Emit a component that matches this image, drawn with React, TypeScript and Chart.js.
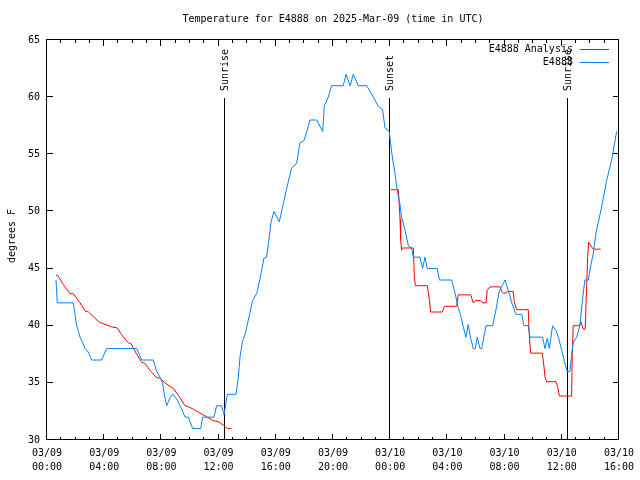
import { useEffect, useRef } from 'react';
import { Chart, registerables } from 'chart.js';

Chart.register(...registerables);

// Hours since 2025-03-09 00:00 UTC
const obsHours = [
  0.63, 0.72, 1.84, 1.96, 2.07, 2.2, 2.31, 2.5, 2.66, 2.89, 3.12, 3.82, 4.17, 6.27, 6.62, 7.44, 7.55, 7.67, 7.9, 8.09,
  8.2, 8.37, 8.6, 8.79, 9.07, 9.3, 9.5, 9.65, 9.88, 10.19, 10.75, 10.89, 11.68, 11.86, 12.21, 12.38, 12.61, 13.22, 13.38, 13.5,
  13.68, 13.85, 14.08, 14.38, 14.66, 14.9, 15.17, 15.36, 15.52, 15.66, 15.87, 16.25, 16.53, 16.76, 17.11, 17.46, 17.69, 17.97, 18.2, 18.39,
  18.86, 19.28, 19.39, 19.67, 19.91, 20.72, 20.91, 21.2, 21.42, 21.77, 22.36, 22.83, 23.17, 23.47, 23.64, 23.94, 24.1, 24.34, 24.45, 24.57,
  24.69, 24.8, 25.03, 25.27, 25.5, 25.62, 26.08, 26.27, 26.43, 26.6, 27.3, 27.44, 28.3, 28.55, 28.75, 28.95, 29.11, 29.3, 29.46, 29.63,
  29.81, 29.95, 30.09, 30.28, 30.4, 30.7, 31.17, 31.4, 31.63, 32.03, 32.26, 32.5, 32.8, 33.2, 33.36, 33.66, 33.78, 34.66, 34.83, 34.99,
  35.13, 35.36, 35.59, 35.76, 35.99, 36.22, 36.39, 36.57, 36.69, 36.8, 37.04, 37.27, 37.46, 37.62, 37.86, 38.02, 38.2, 38.39, 38.79, 39.14,
  39.49, 39.84,
];
const obsTemps = [
  44, 42, 42, 41, 40, 39.5, 39, 38.5, 38, 37.7, 37, 37, 38, 38, 37, 37, 36.5, 36, 35.5, 35,
  34, 33, 33.7, 34, 33.6, 33, 32.5, 32, 32, 31, 31, 32, 32, 33, 33, 32.2, 34, 34, 35.5, 37.3,
  38.7, 39.2, 40.5, 42.2, 42.8, 44.1, 45.9, 46, 47.5, 49, 50, 49.1, 50.7, 52, 53.8, 54.2, 56, 56.2, 57.1, 58,
  58, 57, 59.2, 60, 61, 61, 62, 61, 62, 61, 61, 60, 59.2, 58.9, 57.3, 57, 55.2, 53.3, 52.2, 51.3,
  50.6, 49.5, 48.4, 47, 46.8, 46, 46, 45, 46, 45, 45, 44, 44, 42.8, 41.6, 40.8, 39.9, 39, 40.1, 38.9,
  38, 38, 39, 38, 38, 40, 40, 41.4, 43, 44, 43.1, 42, 41, 41, 40, 40, 39, 39, 38, 38.9,
  38, 40, 39.6, 39, 37.9, 36.7, 36, 36, 37.4, 38.5, 39, 40, 42.4, 44, 44, 45.2, 46.3, 48.1, 50.4, 52.7,
  54.5, 57,
];

const anaHours = [
  0.63, 0.75, 1.14, 1.61, 1.84, 2.31, 2.66, 2.9, 3.66, 3.9, 4.52, 4.92, 5.22, 5.69, 5.9, 6.27, 6.62, 6.85, 7.2, 7.62,
  7.9, 8.25, 8.72, 8.85, 9.25, 9.65, 9.9, 10.23, 10.93, 11.2, 11.63, 11.98, 12.33, 12.63, 12.91,
  18.0,
  24.06, 24.57, 24.62, 24.69, 24.73, 24.8, 24.85, 25.62, 25.69, 25.76, 26.6, 26.74, 26.83, 27.65, 27.79, 28.65, 28.76, 29.63, 29.81, 30.0,
  30.33, 30.47, 30.7, 30.79, 30.98, 31.68, 31.8, 31.96, 32.26, 32.6, 32.68, 32.84, 33.66, 33.71, 33.82, 34.64, 34.76, 34.83, 34.94, 35.59,
  35.71, 35.83, 36.69, 36.73, 36.8, 37.22, 37.34, 37.5, 37.64, 37.74, 37.81, 37.88, 38.09, 38.2, 38.72,
];
const anaTemps: (number | null)[] = [
  44.4, 44.4, 43.6, 42.8, 42.8, 42, 41.3, 41.2, 40.3, 40.2, 39.9, 39.8, 39.2, 38.5, 38.4, 37.5, 36.8, 36.7, 36.1, 35.5,
  35.4, 35, 34.6, 34.5, 33.8, 33, 32.9, 32.7, 32.2, 32, 31.7, 31.6, 31.3, 31, 31,
  null,
  51.9, 51.9, 51, 49.3, 47.6, 46.6, 46.8, 46.8, 44.3, 43.5, 43.5, 42.3, 41.2, 41.2, 41.7, 41.7, 42.7, 42.7, 42, 42.2,
  42.2, 42, 42, 43.1, 43.4, 43.4, 43, 42.8, 43, 43, 42.1, 41.4, 41.4, 39.6, 37.6, 37.6, 36.4, 35.5, 35.1, 35.1,
  34.7, 33.85, 33.85, 37.4, 40, 40, 40.35, 39.7, 39.7, 43.4, 46, 47.3, 46.9, 46.7, 46.7,
];

const sunHours = [12.38, 23.9, 36.39];
const sunLabels = ['Sunrise', 'Sunset', 'Sunrise'];

const xTickHours = [0, 4, 8, 12, 16, 20, 24, 28, 32, 36, 40];
const yTickValues = [30, 35, 40, 45, 50, 55, 60, 65];

const TITLE = 'Temperature for E4888 on 2025-Mar-09 (time in UTC)';
const Y_LABEL = 'degrees F';
const SERIES_OBS = 'E4888';
const SERIES_ANA = 'E4888 Analysis';

const FONT_FAMILY = "'DejaVu Sans Mono', monospace";
const FONT = `10px ${FONT_FAMILY}`;
const BLUE = 'rgb(0,128,255)';
const RED = 'rgb(255,0,0)';

function tickLabel(h: number): string[] {
  const day = h < 24 ? '03/09' : '03/10';
  const hh = Math.round(h % 24);
  return [day, `${hh < 10 ? '0' : ''}${hh}:00`];
}

const framePlugin = {
  id: 'gnuframe',
  beforeDatasetsDraw(chart: any) {
    const { ctx, chartArea, scales } = chart;
    const x = scales.x;
    ctx.save();
    ctx.strokeStyle = '#000';
    ctx.lineWidth = 1;
    ctx.fillStyle = '#000';
    ctx.font = FONT;
    sunHours.forEach((h, i) => {
      const px = Math.round(x.getPixelForValue(h)) + 0.5;
      ctx.beginPath();
      ctx.moveTo(px, chartArea.top + 58);
      ctx.lineTo(px, chartArea.bottom);
      ctx.stroke();
      ctx.save();
      ctx.translate(px + 1, chartArea.top + 51);
      ctx.rotate(-Math.PI / 2);
      ctx.textAlign = 'left';
      ctx.textBaseline = 'middle';
      ctx.fillText(sunLabels[i], 0, 0);
      ctx.restore();
    });
    ctx.restore();
  },
  afterDraw(chart: any) {
    const { ctx, chartArea, scales } = chart;
    const { left, right, top, bottom } = chartArea;
    const x = scales.x;
    const y = scales.y;
    ctx.save();
    ctx.strokeStyle = '#000';
    ctx.lineWidth = 1;
    // frame
    ctx.strokeRect(Math.round(left) - 0.5, Math.round(top) - 0.5, Math.round(right - left), Math.round(bottom - top));
    // x ticks (major every 4h, minor every 1h), inward, bottom and top
    ctx.beginPath();
    for (let h = 0; h <= 40; h++) {
      const px = Math.round(x.getPixelForValue(h)) - 0.5;
      const len = xTickHours.includes(h) ? 6 : 3;
      ctx.moveTo(px, bottom);
      ctx.lineTo(px, bottom - len);
      ctx.moveTo(px, top);
      ctx.lineTo(px, top + len);
    }
    yTickValues.forEach((v) => {
      const py = Math.round(y.getPixelForValue(v)) - 0.5;
      ctx.moveTo(left, py);
      ctx.lineTo(left + 6, py);
      ctx.moveTo(right, py);
      ctx.lineTo(right - 6, py);
    });
    ctx.stroke();

    ctx.fillStyle = '#000';
    ctx.font = FONT;
    // title
    ctx.textAlign = 'center';
    ctx.textBaseline = 'middle';
    ctx.fillText(TITLE, (left + right) / 2, 19.5);
    // y label
    ctx.save();
    ctx.translate(12, (top + bottom) / 2 - 4);
    ctx.rotate(-Math.PI / 2);
    ctx.textAlign = 'center';
    ctx.textBaseline = 'middle';
    ctx.fillText(Y_LABEL, 0, 0);
    ctx.restore();
    // legend
    const entries = [
      { label: SERIES_ANA, color: RED },
      { label: SERIES_OBS, color: BLUE },
    ];
    entries.forEach((e, i) => {
      const ly = top + 9.5 + i * 13;
      ctx.fillStyle = '#000';
      ctx.textAlign = 'right';
      ctx.textBaseline = 'middle';
      ctx.fillText(e.label, right - 46, ly);
      ctx.strokeStyle = e.color;
      ctx.beginPath();
      ctx.moveTo(right - 39, Math.round(ly) - 0.5);
      ctx.lineTo(right - 10, Math.round(ly) - 0.5);
      ctx.stroke();
    });
    ctx.restore();
  },
};

export default function App() {
  const ref = useRef<HTMLCanvasElement>(null);
  useEffect(() => {
    const obsData = obsHours.map((h, i) => ({ x: h, y: obsTemps[i] }));
    const anaData = anaHours.map((h, i) => ({ x: h, y: anaTemps[i] }));
    const chart = new Chart(ref.current as HTMLCanvasElement, {
      type: 'line',
      data: {
        datasets: [
          {
            label: SERIES_OBS,
            data: obsData as any,
            borderColor: BLUE,
            borderWidth: 1,
            pointRadius: 0,
            tension: 0,
            fill: false,
          },
          {
            label: SERIES_ANA,
            data: anaData as any,
            borderColor: RED,
            borderWidth: 1,
            pointRadius: 0,
            tension: 0,
            fill: false,
            spanGaps: false,
          },
        ],
      },
      options: {
        responsive: false,
        animation: false,
        devicePixelRatio: 1,
        layout: { padding: { left: 0, right: 20, top: 40, bottom: 0 } },
        plugins: {
          legend: { display: false },
          title: { display: false },
          tooltip: { enabled: false },
        },
        events: [],
        scales: {
          x: {
            type: 'linear',
            min: 0,
            max: 40,
            offset: false,
            grid: { display: false, drawTicks: false },
            border: { display: false },
            afterFit: (s: any) => {
              s.height = 40;
            },
            afterBuildTicks: (s: any) => {
              s.ticks = xTickHours.map((v) => ({ value: v }));
            },
            ticks: {
              autoSkip: false,
              maxRotation: 0,
              minRotation: 0,
              padding: 6,
              color: '#000',
              font: { family: FONT_FAMILY, size: 10, lineHeight: 1.4 },
              callback: (v: any) => tickLabel(Number(v)),
            },
          },
          y: {
            type: 'linear',
            min: 30,
            max: 65,
            grid: { display: false, drawTicks: false },
            border: { display: false },
            afterFit: (s: any) => {
              s.width = 47;
            },
            afterBuildTicks: (s: any) => {
              s.ticks = yTickValues.map((v) => ({ value: v }));
            },
            ticks: {
              padding: 7,
              color: '#000',
              font: { family: FONT_FAMILY, size: 10 },
              callback: (v: any) => String(v),
            },
          },
        },
      },
      plugins: [framePlugin],
    });
    return () => chart.destroy();
  }, []);
  return (
    <div style={{ position: 'absolute', left: 0, top: 0, width: 640, height: 480, background: '#fff' }}>
      <canvas ref={ref} width={640} height={480} style={{ display: 'block', width: 640, height: 480 }} />
    </div>
  );
}
